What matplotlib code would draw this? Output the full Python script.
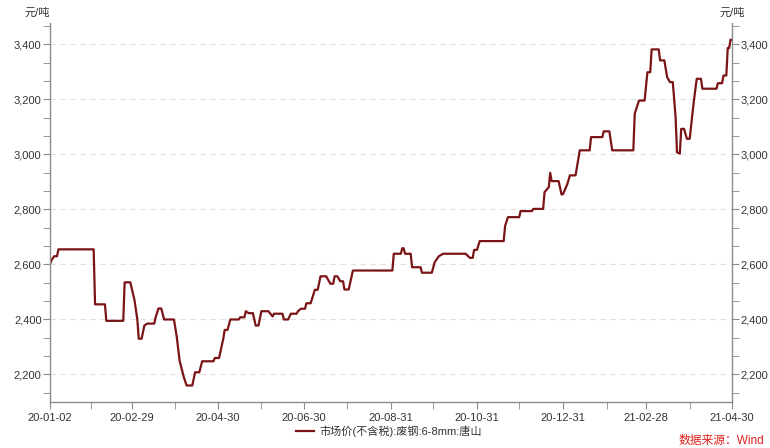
"""Tangshan scrap steel market price (6-8mm, ex-tax), Wind-style line chart."""

import matplotlib

matplotlib.use("Agg")
import matplotlib.dates as mdates
import matplotlib.pyplot as plt
import pandas as pd
from matplotlib.ticker import FuncFormatter, MultipleLocator

plt.rcParams["font.family"] = ["Liberation Sans", "Noto Sans CJK SC", "DejaVu Sans"]

# breakpoints of the step series (date, yuan/ton)
dates = [
    "2020-01-02", "2020-01-03", "2020-01-05", "2020-01-07", "2020-01-08",
    "2020-02-02", "2020-02-03", "2020-02-10", "2020-02-11", "2020-02-23",
    "2020-02-24", "2020-02-28", "2020-03-02", "2020-03-04", "2020-03-05",
    "2020-03-07", "2020-03-09", "2020-03-11", "2020-03-16", "2020-03-17",
    "2020-03-19", "2020-03-21", "2020-03-23", "2020-03-30", "2020-04-01",
    "2020-04-03", "2020-04-06", "2020-04-08", "2020-04-12", "2020-04-14",
    "2020-04-17", "2020-04-19", "2020-04-27", "2020-04-28", "2020-05-01",
    "2020-05-04", "2020-05-05", "2020-05-07", "2020-05-09", "2020-05-15",
    "2020-05-16", "2020-05-19", "2020-05-20", "2020-05-22", "2020-05-25",
    "2020-05-27", "2020-05-29", "2020-05-31", "2020-06-05", "2020-06-08",
    "2020-06-09", "2020-06-15", "2020-06-16", "2020-06-19", "2020-06-21",
    "2020-06-25", "2020-06-26", "2020-06-28", "2020-07-01", "2020-07-02",
    "2020-07-05", "2020-07-08", "2020-07-10", "2020-07-12", "2020-07-16",
    "2020-07-19", "2020-07-21", "2020-07-22", "2020-07-24", "2020-07-26",
    "2020-07-28", "2020-07-29", "2020-08-01", "2020-08-04", "2020-09-01",
    "2020-09-02", "2020-09-07", "2020-09-08", "2020-09-09", "2020-09-10",
    "2020-09-14", "2020-09-15", "2020-09-21", "2020-09-22", "2020-09-29",
    "2020-10-01", "2020-10-04", "2020-10-07", "2020-10-23", "2020-10-26",
    "2020-10-28", "2020-10-29", "2020-10-31", "2020-11-02", "2020-11-19",
    "2020-11-20", "2020-11-22", "2020-11-30", "2020-12-01", "2020-12-09",
    "2020-12-10", "2020-12-17", "2020-12-18", "2020-12-21", "2020-12-22",
    "2020-12-23", "2020-12-28", "2020-12-30", "2020-12-31", "2021-01-03",
    "2021-01-05", "2021-01-09", "2021-01-12", "2021-01-19", "2021-01-20",
    "2021-01-28", "2021-01-29", "2021-02-02", "2021-02-04", "2021-02-19",
    "2021-02-20", "2021-02-23", "2021-02-27", "2021-03-01", "2021-03-03",
    "2021-03-04", "2021-03-09", "2021-03-10", "2021-03-13", "2021-03-15",
    "2021-03-17", "2021-03-19", "2021-03-21", "2021-03-22", "2021-03-24",
    "2021-03-25", "2021-03-27", "2021-03-29", "2021-03-31", "2021-04-03",
    "2021-04-05", "2021-04-08", "2021-04-09", "2021-04-19", "2021-04-20",
    "2021-04-23", "2021-04-24", "2021-04-26", "2021-04-27", "2021-04-28",
    "2021-04-29", "2021-04-30",
]
prices = [
    2600, 2615, 2630, 2630, 2655,
    2655, 2455, 2455, 2395, 2395,
    2535, 2535, 2470, 2400, 2330,
    2330, 2378, 2385, 2385, 2408,
    2440, 2440, 2400, 2400, 2336,
    2250, 2190, 2160, 2160, 2208,
    2208, 2248, 2248, 2260, 2260,
    2330, 2362, 2362, 2400, 2400,
    2408, 2408, 2430, 2423, 2423,
    2378, 2378, 2430, 2430, 2411,
    2421, 2421, 2400, 2400, 2421,
    2421, 2430, 2439, 2439, 2459,
    2459, 2508, 2508, 2557, 2557,
    2530, 2530, 2557, 2557, 2539,
    2539, 2509, 2509, 2578, 2578,
    2639, 2639, 2659, 2659, 2639,
    2639, 2590, 2590, 2570, 2570,
    2608, 2630, 2639, 2639, 2624,
    2624, 2653, 2653, 2685, 2685,
    2740, 2772, 2772, 2794, 2794,
    2802, 2802, 2863, 2881, 2933,
    2903, 2903, 2855, 2855, 2890,
    2924, 2924, 3015, 3015, 3063,
    3063, 3084, 3084, 3015, 3015,
    3148, 3196, 3196, 3299, 3299,
    3382, 3382, 3342, 3342, 3281,
    3263, 3263, 3136, 3008, 3003,
    3093, 3093, 3057, 3057, 3196,
    3275, 3275, 3239, 3239, 3259,
    3259, 3287, 3287, 3387, 3387,
    3417, 3417,
]

major_ticks = ["2020-01-02", "2020-02-29", "2020-04-30", "2020-06-30", "2020-08-31",
               "2020-10-31", "2020-12-31", "2021-02-28", "2021-04-30"]
minor_ticks = ["2020-01-31", "2020-03-31", "2020-05-31", "2020-07-31", "2020-09-30",
               "2020-11-30", "2021-01-31", "2021-03-31"]

series_label = "市场价(不含税):废钢:6-8mm:唐山"
LINE_COLOR = "#7a1416"
AXIS_COLOR = "#8c8c8c"
TEXT_COLOR = "#333333"

x = pd.to_datetime(dates)
fig = plt.figure(figsize=(7.7, 4.48), dpi=100, facecolor="white")
ax = fig.add_axes([0.0649, 0.1027, 0.8857, 0.846])
ax.plot(x, prices, color=LINE_COLOR, linewidth=1.6, label=series_label)

ax.set_xlim(pd.Timestamp("2020-01-02"), pd.Timestamp("2021-04-30"))
ax.set_ylim(2100, 3478)

ax.set_xticks(pd.to_datetime(major_ticks))
ax.set_xticks(pd.to_datetime(minor_ticks), minor=True)
ax.xaxis.set_major_formatter(mdates.DateFormatter("%y-%m-%d"))
ax.yaxis.set_major_locator(MultipleLocator(200))
ax.yaxis.set_minor_locator(MultipleLocator(200 / 3))
ax.yaxis.set_major_formatter(FuncFormatter(lambda v, _: f"{v:,.0f}"))

ax.grid(axis="y", which="major", color="#e0e0e0", linestyle=(0, (5, 4)), linewidth=0.8)

for side in ["left", "right", "bottom"]:
    ax.spines[side].set_color(AXIS_COLOR)
    ax.spines[side].set_linewidth(1.0)
ax.spines["top"].set_visible(False)

ax.tick_params(axis="both", which="both", direction="out", color=AXIS_COLOR,
               labelsize=8, labelcolor=TEXT_COLOR)
ax.tick_params(axis="both", which="major", length=5)
ax.tick_params(axis="both", which="minor", length=5)
ax.tick_params(axis="y", which="both", left=True, right=True,
               labelleft=True, labelright=True, pad=1)
ax.tick_params(axis="x", pad=3)

fig.text(0.048, 0.972, "元/吨", fontsize=8, color=TEXT_COLOR, ha="center", va="center")
fig.text(0.951, 0.972, "元/吨", fontsize=8, color=TEXT_COLOR, ha="center", va="center")

fig.legend(loc="center", bbox_to_anchor=(0.505, 0.038), frameon=False, fontsize=8,
           handlelength=1.6, handletextpad=0.5, labelcolor=TEXT_COLOR)

fig.text(0.993, 0.015, "数据来源：Wind", fontsize=8.5, color="#e0201c",
         ha="right", va="center")

fig.savefig("out.png", dpi=100, facecolor="white")
